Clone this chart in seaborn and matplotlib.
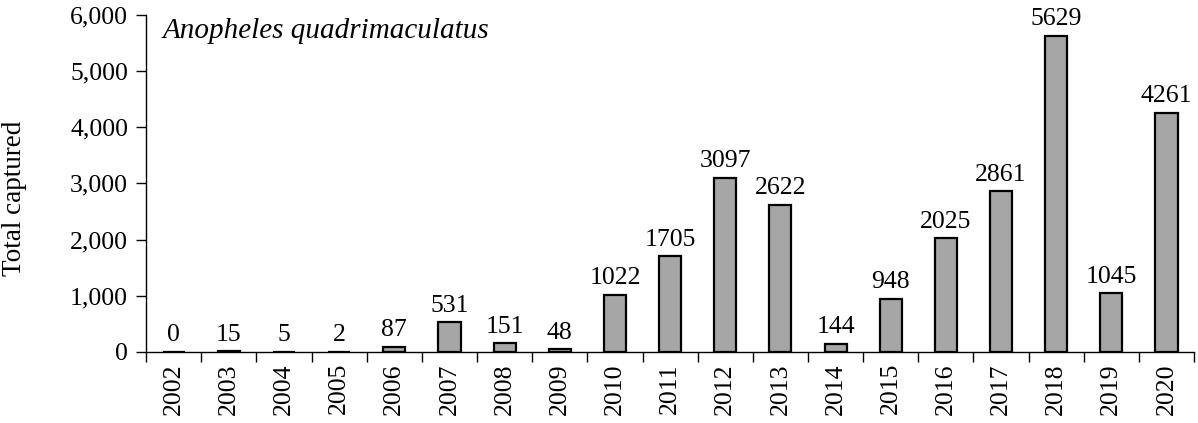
import matplotlib
matplotlib.use("Agg")
import matplotlib.pyplot as plt
import matplotlib.ticker as mticker
import numpy as np
import pandas as pd
import seaborn as sns

years = [str(y) for y in range(2002, 2021)]
captured = [0, 15, 5, 2, 87, 531, 151, 48, 1022, 1705, 3097, 2622, 144, 948,
            2025, 2861, 5629, 1045, 4261]
species = "Anopheles quadrimaculatus"


def main():
    sns.set_style("ticks")
    plt.rcParams["font.family"] = ["Liberation Serif", "DejaVu Serif"]
    plt.rcParams["font.size"] = 18.5
    plt.rcParams["text.color"] = "black"
    plt.rcParams["axes.labelcolor"] = "black"
    plt.rcParams["xtick.color"] = "black"
    plt.rcParams["ytick.color"] = "black"

    df = pd.DataFrame({"Year": years, "Total": captured})

    fig = plt.figure(figsize=(11.98, 4.23), dpi=100)
    ax = fig.add_axes([0.122, 0.168, 0.8747, 0.797])

    sns.barplot(data=df, x="Year", y="Total", color="#A6A6A6", saturation=1,
                edgecolor="black", linewidth=1.6, width=0.4, ax=ax)

    ax.bar_label(ax.containers[0], fmt="%d", padding=4, fontsize=18.5)

    ax.set_ylim(0, 6000)
    ax.set_xlim(-0.5, len(years) - 0.5)
    ax.yaxis.set_major_locator(mticker.MultipleLocator(1000))
    ax.yaxis.set_major_formatter(mticker.FuncFormatter(lambda v, p: f"{int(v):,}"))

    # ticks between categories
    ax.set_xticks(np.arange(-0.5, len(years), 1), minor=True)
    ax.tick_params(axis="x", which="major", length=0, pad=8, labelrotation=90,
                   labelsize=18.5)
    ax.tick_params(axis="x", which="minor", length=7, width=1, direction="out")
    ax.tick_params(axis="y", length=7, width=1, labelsize=18.5, pad=6)

    ax.set_xlabel("")
    ax.set_ylabel("Total captured", fontsize=19.5)
    ax.yaxis.set_label_coords(-0.114, 0.457)
    ax.text(0.016, 0.99, species, transform=ax.transAxes, fontstyle="italic",
            fontsize=21, va="top", ha="left")

    for s in ["top", "right"]:
        ax.spines[s].set_visible(False)
    for s in ["left", "bottom"]:
        ax.spines[s].set_linewidth(1)
        ax.spines[s].set_color("black")

    fig.savefig("out.png", dpi=100)


if __name__ == "__main__":
    main()
